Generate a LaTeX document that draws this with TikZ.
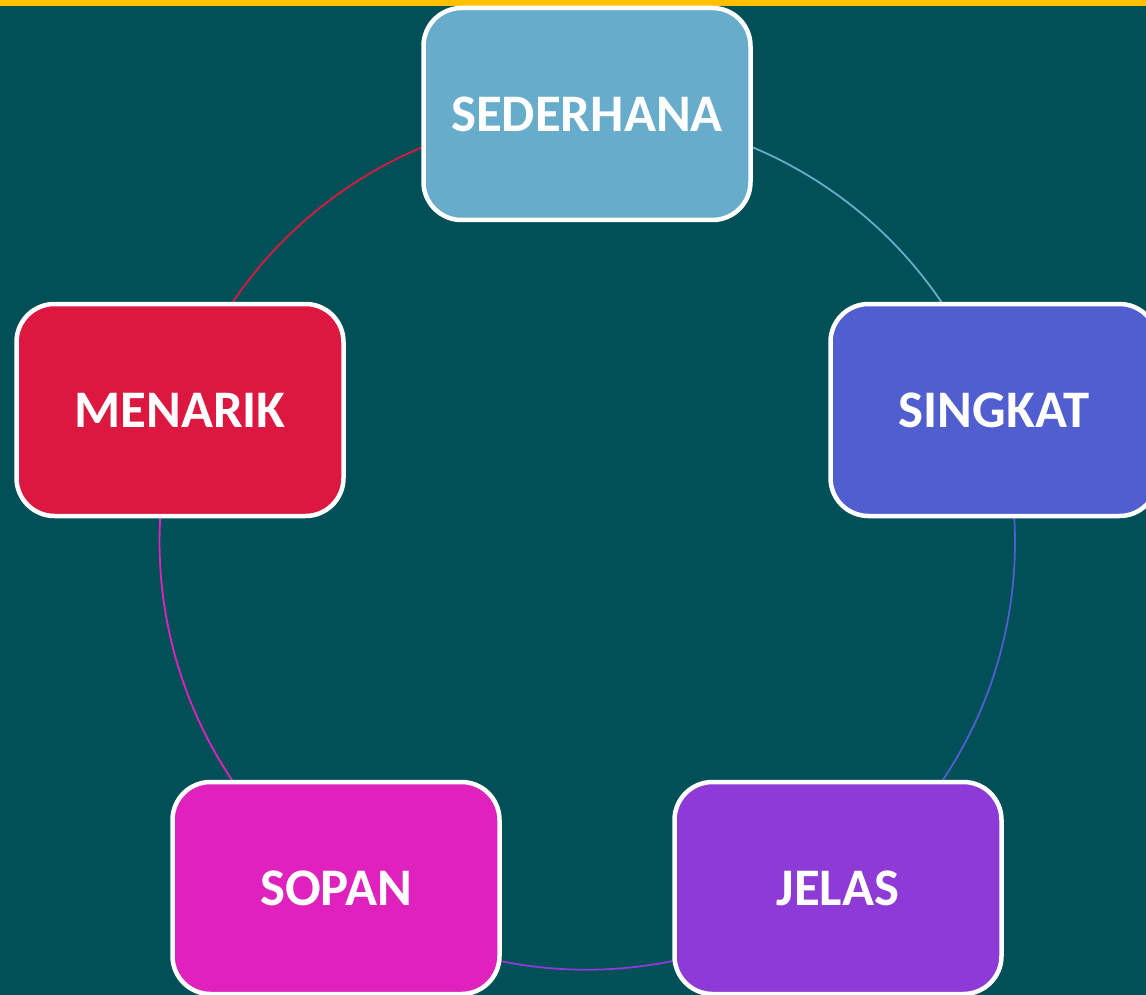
\documentclass[tikz,border=0pt]{standalone}
\usepackage{fontspec}
\setmainfont{Carlito}
\pgfdeclarelayer{back}
\pgfdeclarelayer{links}
\pgfsetlayers{back,links,main}
\definecolor{bg}{RGB}{2,80,87}
\definecolor{stripe}{RGB}{255,192,0}
\definecolor{cSed}{RGB}{103,173,203}
\definecolor{cSin}{RGB}{80,94,208}
\definecolor{cJel}{RGB}{142,58,214}
\definecolor{cSop}{RGB}{223,34,190}
\definecolor{cMen}{RGB}{220,23,64}
\tikzset{
  card/.style={draw=white, line width=4.5pt, rounded corners=38pt,
    minimum width=327pt, minimum height=212pt, inner sep=0pt,
    text=white, font=\fontsize{52.8}{60}\selectfont\bfseries},
  link/.style={line width=1.8pt}
}
\begin{document}
\begin{tikzpicture}[x=1pt,y=-1pt]
\useasboundingbox (0,0) rectangle (1146,995);
\clip (0,0) rectangle (1146,995);
\begin{pgfonlayer}{back}
\fill[bg] (0,0) rectangle (1146,995);
\fill[stripe] (0,0) rectangle (1146,6);
\end{pgfonlayer}
\node[card, fill=cSed] (sed) at (587,114) {SEDERHANA};
\node[card, fill=cSin] (sin) at (994,410) {SINGKAT};
\node[card, fill=cJel] (jel) at (838,888) {JELAS};
\node[card, fill=cSop] (sop) at (336,888) {SOPAN};
\node[card, fill=cMen] (men) at (180,410) {MENARIK};
\begin{pgfonlayer}{links}
\draw[link, cSed] (sed.center) arc[start angle=90, end angle=18, radius=428pt];
\draw[link, cSin] (sin.center) arc[start angle=18, end angle=-54, radius=428pt];
\draw[link, cJel] (jel.center) arc[start angle=-54, end angle=-126, radius=428pt];
\draw[link, cSop] (sop.center) arc[start angle=-126, end angle=-198, radius=428pt];
\draw[link, cMen] (men.center) arc[start angle=162, end angle=90, radius=428pt];
\end{pgfonlayer}
\end{tikzpicture}
\end{document}
